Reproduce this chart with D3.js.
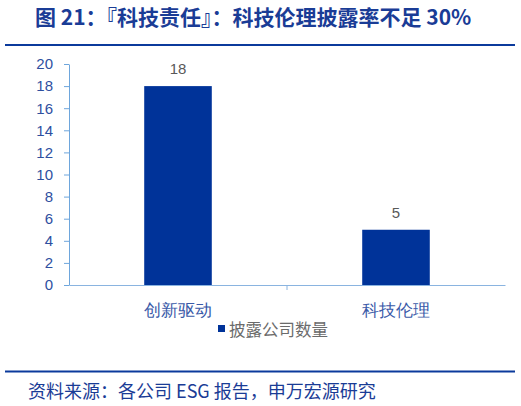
<!DOCTYPE html>
<html><head><meta charset="utf-8">
<script src="https://cdn.jsdelivr.net/npm/d3@7"></script>
<style>body{margin:0;background:#fff;}svg{display:block;font-family:"Microsoft YaHei","Noto Sans CJK SC",sans-serif;}</style>
</head><body><svg id="c" width="521" height="406"></svg>
<script>
const categories = ["创新驱动", "科技伦理"];
const values = [18, 5];
const yTicks = [0, 2, 4, 6, 8, 10, 12, 14, 16, 18, 20];
const seriesName = "披露公司数量";
const titleText = "图 21：『科技责任』：科技伦理披露率不足 30%";
const sourceText = "资料来源：各公司 ESG 报告，申万宏源研究";

const svg = d3.select("#c");
const x = d3.scaleBand().domain(categories).range([69, 505]).paddingInner(0.69).paddingOuter(0.345);
const y = d3.scaleLinear().domain([0, 20]).range([285, 64]);

svg.append("text").attr("x", 35).attr("y", 25).attr("font-size", 21).attr("font-weight", "bold")
  .attr("fill", "#1a3c96").text(titleText);
svg.append("line").attr("x1", 5).attr("x2", 515).attr("y1", 45).attr("y2", 45).attr("stroke", "#0b3a9c").attr("stroke-width", 2);

const yAxis = d3.axisLeft(y).tickValues(yTicks).tickSize(5).tickSizeOuter(0);
const gy = svg.append("g").attr("transform", "translate(69,0)").call(yAxis);
gy.select(".domain").attr("stroke", "#6ea6dc");
gy.selectAll(".tick line").attr("stroke", "#6ea6dc");
gy.selectAll(".tick text").attr("fill", "#2e4f9f").attr("font-size", 15).attr("x", -16)
  .attr("font-family", "Arial, 'Liberation Sans', sans-serif");

svg.selectAll("rect.bar").data(values).join("rect").attr("class", "bar")
  .attr("x", (d, i) => x(categories[i])).attr("width", x.bandwidth())
  .attr("y", d => y(d)).attr("height", d => y(0) - y(d)).attr("fill", "#003399");

const xAxis = d3.axisBottom(x).tickSize(0).tickSizeOuter(0);
const gx = svg.append("g").attr("transform", "translate(0,285)").call(xAxis);
gx.select(".domain").attr("stroke", "#8ab4e0");
gx.selectAll(".tick text").attr("fill", "#3a5aa8").attr("font-size", 16.5).attr("dy", 0).attr("y", 31);
// category separator tick
svg.append("line").attr("x1", 287).attr("x2", 287).attr("y1", 285).attr("y2", 290).attr("stroke", "#8ab4e0");

svg.selectAll("text.val").data(values).join("text").attr("class", "val")
  .attr("x", (d, i) => x(categories[i]) + x.bandwidth() / 2).attr("y", d => y(d) - 12)
  .attr("text-anchor", "middle").attr("font-size", 15).attr("fill", "#595959")
  .attr("font-family", "Arial, 'Liberation Sans', sans-serif").text(d => d);

svg.append("rect").attr("x", 218).attr("y", 325).attr("width", 7).attr("height", 7).attr("fill", "#003399");
svg.append("text").attr("x", 229).attr("y", 336).attr("font-size", 16.5).attr("fill", "#6b6b6b").text(seriesName);

svg.append("line").attr("x1", 5).attr("x2", 515).attr("y1", 371.5).attr("y2", 371.5).attr("stroke", "#0b3a9c").attr("stroke-width", 2);
svg.append("text").attr("x", 28).attr("y", 398).attr("font-size", 18).attr("fill", "#1a3c96").text(sourceText);
</script></body></html>
